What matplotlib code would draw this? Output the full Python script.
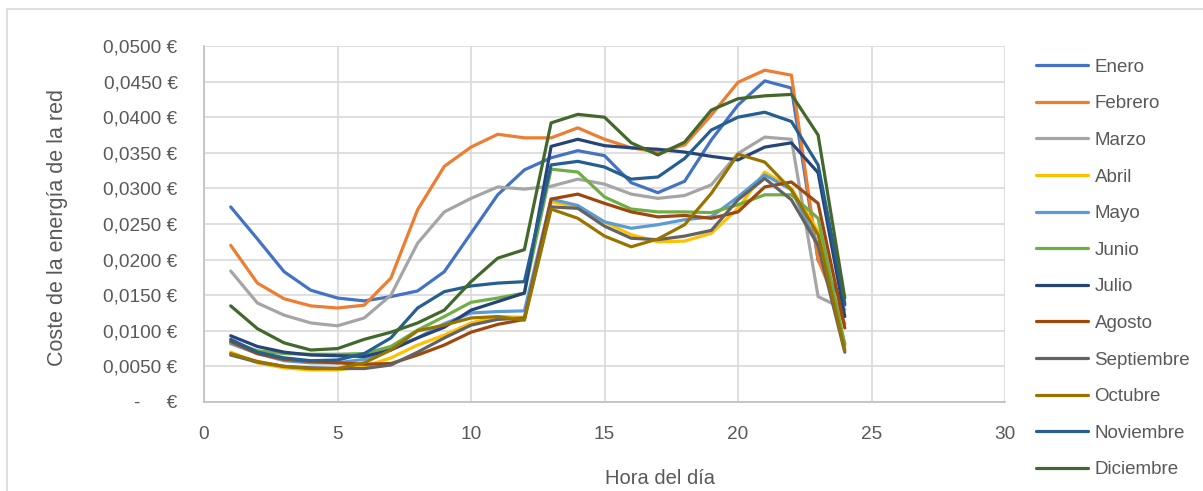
import numpy as np
import matplotlib
matplotlib.use("Agg")
import matplotlib.pyplot as plt
from matplotlib.ticker import FuncFormatter, MultipleLocator
from matplotlib.patches import Rectangle

plt.rcParams['font.family'] = ['Liberation Sans', 'DejaVu Sans']

horas = list(range(1, 25))

meses = ["Enero", "Febrero", "Marzo", "Abril", "Mayo", "Junio", "Julio",
         "Agosto", "Septiembre", "Octubre", "Noviembre", "Diciembre"]

colores = ["#4472C4", "#ED7D31", "#A5A5A5", "#FFC000", "#5B9BD5", "#70AD47",
           "#264478", "#9E480E", "#636363", "#997300", "#255E91", "#43682B"]

# coste horario medio (EUR/kWh) por mes
enero = [0.0274, 0.0229, 0.0183, 0.0157, 0.0146, 0.0142, 0.0148, 0.0156, 0.0183, 0.0237, 0.0291, 0.0326,
         0.0343, 0.0353, 0.0346, 0.0308, 0.0294, 0.0310, 0.0368, 0.0417, 0.0451, 0.0441, 0.0199, 0.0136]
febrero = [0.0220, 0.0167, 0.0145, 0.0135, 0.0132, 0.0136, 0.0174, 0.0270, 0.0331, 0.0358, 0.0376, 0.0371,
           0.0371, 0.0385, 0.0369, 0.0357, 0.0351, 0.0361, 0.0403, 0.0449, 0.0466, 0.0459, 0.0200, 0.0110]
marzo = [0.0184, 0.0139, 0.0122, 0.0111, 0.0107, 0.0118, 0.0150, 0.0223, 0.0267, 0.0286, 0.0302, 0.0299,
         0.0303, 0.0313, 0.0306, 0.0292, 0.0286, 0.0290, 0.0305, 0.0349, 0.0372, 0.0369, 0.0148, 0.0130]
abril = [0.0070, 0.0055, 0.0048, 0.0045, 0.0045, 0.0050, 0.0062, 0.0080, 0.0094, 0.0111, 0.0120, 0.0119,
         0.0281, 0.0274, 0.0253, 0.0235, 0.0225, 0.0226, 0.0237, 0.0272, 0.0323, 0.0300, 0.0240, 0.0077]
mayo = [0.0082, 0.0068, 0.0058, 0.0055, 0.0055, 0.0060, 0.0075, 0.0090, 0.0110, 0.0125, 0.0127, 0.0128,
        0.0285, 0.0276, 0.0253, 0.0244, 0.0249, 0.0256, 0.0260, 0.0288, 0.0319, 0.0298, 0.0220, 0.0082]
junio = [0.0085, 0.0072, 0.0068, 0.0067, 0.0067, 0.0068, 0.0078, 0.0101, 0.0120, 0.0140, 0.0146, 0.0153,
         0.0327, 0.0323, 0.0288, 0.0271, 0.0267, 0.0267, 0.0266, 0.0277, 0.0291, 0.0291, 0.0258, 0.0080]
julio = [0.0093, 0.0078, 0.0070, 0.0066, 0.0065, 0.0064, 0.0073, 0.0090, 0.0105, 0.0129, 0.0141, 0.0153,
         0.0359, 0.0369, 0.0360, 0.0357, 0.0355, 0.0351, 0.0345, 0.0340, 0.0358, 0.0364, 0.0322, 0.0120]
agosto = [0.0085, 0.0068, 0.0060, 0.0057, 0.0055, 0.0053, 0.0054, 0.0066, 0.0080, 0.0098, 0.0109, 0.0116,
          0.0285, 0.0292, 0.0279, 0.0267, 0.0260, 0.0262, 0.0258, 0.0267, 0.0302, 0.0309, 0.0279, 0.0104]
septiembre = [0.0066, 0.0056, 0.0050, 0.0048, 0.0047, 0.0047, 0.0052, 0.0070, 0.0090, 0.0108, 0.0116, 0.0118,
              0.0274, 0.0272, 0.0247, 0.0230, 0.0228, 0.0233, 0.0241, 0.0284, 0.0314, 0.0284, 0.0220, 0.0070]
octubre = [0.0068, 0.0057, 0.0050, 0.0047, 0.0047, 0.0055, 0.0073, 0.0100, 0.0108, 0.0118, 0.0120, 0.0115,
           0.0271, 0.0258, 0.0233, 0.0218, 0.0229, 0.0249, 0.0293, 0.0348, 0.0337, 0.0298, 0.0235, 0.0072]
noviembre = [0.0088, 0.0070, 0.0062, 0.0058, 0.0059, 0.0068, 0.0090, 0.0132, 0.0155, 0.0163, 0.0167, 0.0169,
             0.0333, 0.0338, 0.0330, 0.0313, 0.0316, 0.0342, 0.0382, 0.0400, 0.0407, 0.0394, 0.0333, 0.0138]
diciembre = [0.0135, 0.0103, 0.0083, 0.0073, 0.0075, 0.0088, 0.0098, 0.0111, 0.0129, 0.0169, 0.0202, 0.0214,
             0.0392, 0.0404, 0.0400, 0.0364, 0.0347, 0.0365, 0.0410, 0.0426, 0.0430, 0.0432, 0.0375, 0.0146]

series = [enero, febrero, marzo, abril, mayo, junio, julio,
          agosto, septiembre, octubre, noviembre, diciembre]

texto = "#595959"
rejilla = "#D9D9D9"

fig = plt.figure(figsize=(12.03, 4.91), dpi=100)
ax = fig.add_axes([204 / 1203, 1 - 402 / 491, (1005 - 204) / 1203, (402 - 46) / 491])

for nombre, valores, color in zip(meses, series, colores):
    ax.plot(horas, valores, color=color, linewidth=2.3, label=nombre,
            solid_joinstyle="round", solid_capstyle="round")

ax.set_xlim(0, 30)
ax.set_ylim(0, 0.05)
ax.xaxis.set_major_locator(MultipleLocator(5))
ax.yaxis.set_major_locator(MultipleLocator(0.005))


def formato_euro(v, pos):
    if abs(v) < 1e-9:
        return "-     €"
    return f"{v:.4f}".replace(".", ",") + " €"


ax.yaxis.set_major_formatter(FuncFormatter(formato_euro))
ax.grid(True, color=rejilla, linewidth=1.2)
ax.set_axisbelow(True)
for lado in ["top", "right"]:
    ax.spines[lado].set_visible(False)
for lado in ["left", "bottom"]:
    ax.spines[lado].set_color("#BFBFBF")
    ax.spines[lado].set_linewidth(1.2)

ax.tick_params(axis="y", length=0, pad=19, labelsize=13.7, labelcolor=texto)
ax.tick_params(axis="x", length=0, pad=17, labelsize=13.7, labelcolor=texto)

fig.text(57 / 1203, 1 - 227 / 491, "Coste de la energía de la red", rotation=90,
         ha="center", va="center", fontsize=15.5, color=texto)
fig.text(660 / 1203, 1 - 478 / 491, "Hora del día", ha="center", va="center",
         fontsize=14.5, color=texto)

fig.legend(loc="upper left", bbox_to_anchor=(1028 / 1203, 1 - 51 / 491),
           frameon=False, fontsize=13.5, labelcolor=texto, handlelength=2.8,
           handletextpad=0.35, labelspacing=1.04, borderaxespad=0)

fig.patches.append(Rectangle((7 / 1203, -0.05), 1.2, 1 - 9 / 491 + 0.05,
                             transform=fig.transFigure, fill=False,
                             edgecolor="#D9D9D9", linewidth=1.2))

fig.savefig("out.png", dpi=100, facecolor="white")
